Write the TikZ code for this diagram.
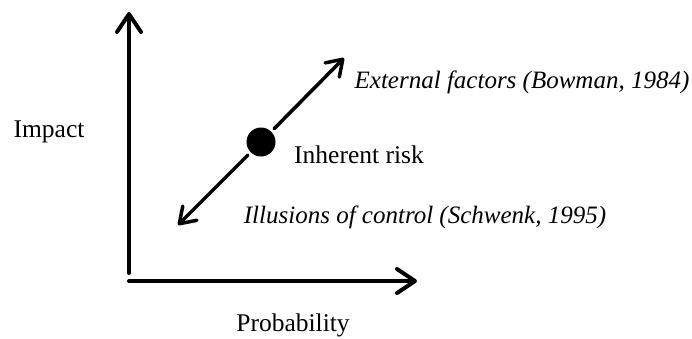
\documentclass[tikz,border=0pt]{standalone}
\usepackage{fontspec}
\setmainfont{Liberation Serif}
\usetikzlibrary{arrows.meta}
\begin{document}
\begin{tikzpicture}[x=1pt,y=-1pt,
  axis/.style={line width=4pt,line cap=round,
    -{Straight Barb[length=18pt,width=24pt,line cap=round,line join=round]}},
  diag/.style={line width=3.5pt,line cap=round,shorten <=4pt,
    -{Straight Barb[length=15pt,width=20pt,line cap=round,line join=round]}},
  lbl/.style={inner sep=0pt,anchor=base,font=\fontsize{25.5}{30}\selectfont},
  ilbl/.style={lbl,font=\fontsize{25}{30}\selectfont\itshape}]
  \useasboundingbox (0,0) rectangle (692,338);

  % axes
  \coordinate (vbot) at (129,273);
  \coordinate (vtop) at (129,12);
  \coordinate (hleft) at (129,281);
  \coordinate (hright) at (417,281);
  \draw[axis] (vbot) -- (vtop);
  \draw[axis] (hleft) -- (hright);

  % inherent risk point and its two directions
  \node[circle,fill=black,minimum size=29pt,inner sep=0pt] (dot) at (261,142) {};
  \coordinate (up) at (344,58);
  \coordinate (down) at (178,225);
  \draw[diag] (dot) -- (up);
  \draw[diag] (dot) -- (down);

  % labels
  \node[lbl] (impact) at (49,137) {Impact};
  \node[lbl] (prob) at (293,331) {Probability};
  \node[lbl] (risk) at (359,163) {Inherent risk};
  \node[ilbl] (ext) at (522,88) {External factors (Bowman, 1984)};
  \node[ilbl] (ill) at (425,223) {Illusions of control (Schwenk, 1995)};
\end{tikzpicture}
\end{document}
